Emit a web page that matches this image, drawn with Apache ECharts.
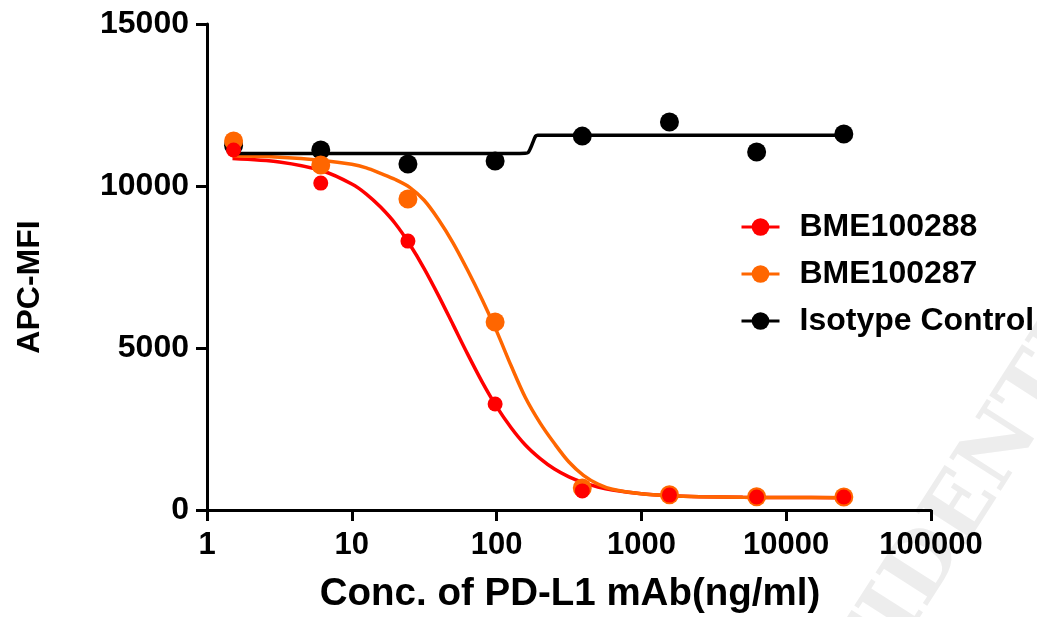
<!DOCTYPE html>
<html>
<head>
<meta charset="utf-8">
<script src="https://cdn.jsdelivr.net/npm/echarts@6/dist/echarts.min.js"></script>
<style>
html,body{margin:0;padding:0;background:#fff;}
#chart{width:1037px;height:617px;}
</style>
</head>
<body>
<div id="chart"></div>
<script>
// Concentrations (ng/ml)
var conc = [1.526, 6.104, 24.41, 97.66, 390.6, 1562.5, 6250, 25000];
// Measured APC-MFI
var bme288 = [11110, 10090, 8300, 3270, 590, 460, 400, 400];
var bme287 = [11390, 10650, 9600, 5800, 680, 470, 410, 400];
var isotype = [11250, 11110, 10680, 10770, 11540, 11975, 11050, 11605];

// Fitted curves
var curveX = [1.5, 3.16, 6.31, 10, 12.6, 15.8, 20, 25.1, 31.6, 39.8, 50.1, 63.1, 79.4, 100, 126, 158, 200, 251, 316, 398, 501, 631, 1000, 1585, 2512, 5012, 10000, 25000];
var curve288 = [10847, 10740, 10462, 10061, 9752, 9349, 8835, 8201, 7452, 6609, 5713, 4811, 3957, 3191, 2539, 2006, 1585, 1263, 1021, 842, 711, 617, 500, 440, 410, 391, 384, 380];
var curve287 = [10930, 10890, 10790, 10670, 10560, 10390, 10200, 9960, 9560, 8960, 8240, 7400, 6500, 5520, 4450, 3470, 2680, 2050, 1480, 1070, 800, 640, 500, 440, 410, 391, 384, 380];
var isoCurveX = [1.5, 100, 158, 165, 172, 180, 186, 192, 25000];
var isoCurve = [11000, 11000, 11010, 11030, 11180, 11400, 11540, 11570, 11570];

var seriesNames = ['BME100288', 'BME100287', 'Isotype Control'];
var xTickLabels = ['1', '10', '100', '1000', '10000', '100000'];
var yTickLabels = ['0', '5000', '10000', '15000'];
var xTitle = 'Conc. of PD-L1 mAb(ng/ml)';
var yTitle = 'APC-MFI';
var watermark = 'CONFIDENTIAL';

var colors = ['#ff0000', '#ff6600', '#000000'];
var FONT = '"Liberation Sans", Arial, sans-serif';

function pairs(xs, ys) { return xs.map(function (x, i) { return [x, ys[i]]; }); }

var chart = echarts.init(document.getElementById('chart'));
chart.setOption({
  animation: false,
  backgroundColor: '#fff',
  grid: { left: 207, right: 106, top: 24, bottom: 107, containLabel: false, outerBoundsMode: 'none' },
  xAxis: {
    type: 'log', logBase: 10, min: 1, max: 100000,
    axisLine: { show: true, onZero: false, lineStyle: { color: '#000', width: 3 } },
    axisTick: { show: true, length: 11, lineStyle: { color: '#000', width: 3 } },
    minorTick: { show: false },
    splitLine: { show: false },
    axisLabel: {
      margin: 20, color: '#000', fontSize: 31, fontWeight: 'bold', fontFamily: FONT,
      formatter: function (v, i) { return xTickLabels[i]; }
    }
  },
  yAxis: {
    type: 'value', min: 0, max: 15000, interval: 5000,
    axisLine: { show: true, lineStyle: { color: '#000', width: 3 } },
    axisTick: { show: true, length: 11, lineStyle: { color: '#000', width: 3 } },
    splitLine: { show: false },
    axisLabel: {
      margin: 18, color: '#000', fontSize: 32, fontWeight: 'bold', fontFamily: FONT,
      formatter: function (v, i) { return yTickLabels[i]; }
    }
  },
  legend: {
    data: seriesNames,
    orient: 'vertical',
    left: 735, top: 205,
    itemWidth: 38, itemHeight: 22, itemGap: 13,
    lineStyle: { width: 3 },
    textStyle: { color: '#000', fontSize: 32, fontWeight: 'bold', fontFamily: FONT, lineHeight: 34, padding: [0, 0, 0, 15] }
  },
  graphic: [
    {
      type: 'text', z: -10,
      x: 940, y: 545, rotation: 1.0,
      style: { text: watermark, fill: '#ededed', font: 'bold 84px "DejaVu Serif", serif', align: 'center', verticalAlign: 'middle' }
    },
    {
      type: 'text', x: 30, y: 287, rotation: Math.PI / 2,
      style: { text: yTitle, fill: '#000', font: 'bold 32px ' + FONT, align: 'center', verticalAlign: 'middle' }
    },
    {
      type: 'text', x: 570, y: 594,
      style: { text: xTitle, fill: '#000', font: 'bold 38.5px ' + FONT, align: 'center', verticalAlign: 'middle' }
    }
  ],
  series: [
    { name: seriesNames[0], type: 'line', data: pairs(curveX, curve288), smooth: 0.3,
      showSymbol: false, symbol: 'circle', color: colors[0], lineStyle: { width: 3.5, color: colors[0] }, z: 2 },
    { name: seriesNames[1], type: 'line', data: pairs(curveX, curve287), smooth: 0.3,
      showSymbol: false, symbol: 'circle', color: colors[1], lineStyle: { width: 3.5, color: colors[1] }, z: 2 },
    { name: seriesNames[2], type: 'line', data: pairs(isoCurveX, isoCurve), smooth: 0.3,
      showSymbol: false, symbol: 'circle', color: colors[2], lineStyle: { width: 3.5, color: colors[2] }, z: 2 },
    { name: seriesNames[2], type: 'scatter', data: pairs(conc, isotype), symbol: 'circle', symbolSize: 19,
      itemStyle: { color: colors[2], opacity: 1 }, z: 3 },
    { name: seriesNames[1], type: 'scatter', data: pairs(conc, bme287), symbol: 'circle', symbolSize: 19,
      itemStyle: { color: colors[1], opacity: 1 }, z: 4 },
    { name: seriesNames[0], type: 'scatter', data: pairs(conc, bme288), symbol: 'circle', symbolSize: 15,
      itemStyle: { color: colors[0], opacity: 1 }, z: 5 }
  ]
});
</script>
</body>
</html>
